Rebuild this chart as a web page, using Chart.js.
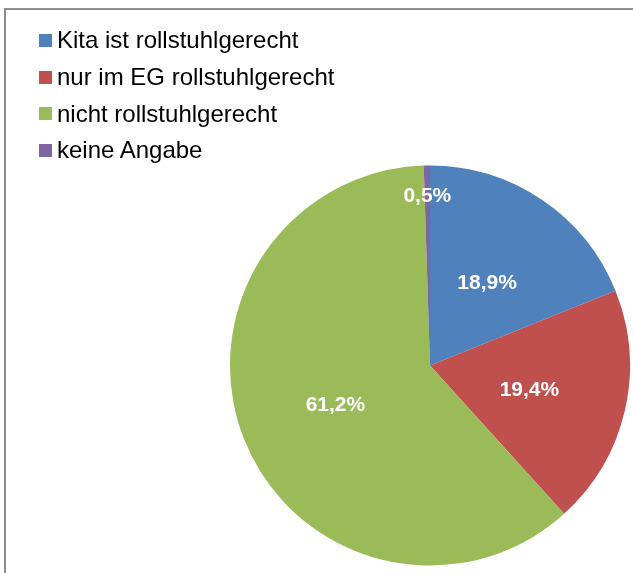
<!DOCTYPE html>
<html>
<head>
<meta charset="utf-8">
<script src="https://cdn.jsdelivr.net/npm/chart.js@4.4.1/dist/chart.umd.min.js"></script>
<style>
    body { margin: 0; background: #fff; }
    #wrap { position: relative; width: 633px; height: 573px; overflow: hidden; }
    #frame { position: absolute; left: 4px; top: 8px; width: 700px; height: 700px;
             border-top: 2px solid #8e8e8e; border-left: 2px solid #8e8e8e; }
    #myChart { position: absolute; left: 0; top: 0; }
    #legend { position: absolute; left: 39px; top: 22px; font-family: "Liberation Sans", Arial, sans-serif;
              font-size: 24px; color: #000; }
    .row { height: 36.7px; display: flex; align-items: center; white-space: nowrap; }
    .box { width: 13px; height: 13px; margin-right: 5px; }
</style>
</head>
<body>
<div id="wrap">
    <div id="frame"></div>
    <canvas id="myChart" width="633" height="573"></canvas>
    <div id="legend"></div>
</div>
<script>
// données
var categories = ['Kita ist rollstuhlgerecht', 'nur im EG rollstuhlgerecht', 'nicht rollstuhlgerecht', 'keine Angabe'];
var values = [18.9, 19.4, 61.2, 0.5];
var labels = ['18,9%', '19,4%', '61,2%', '0,5%'];
var colors = ['#4f81bd', '#c0504d', '#9bbb59', '#8064a2'];

// légende
var legend = document.getElementById('legend');
categories.forEach(function(cat, i) {
    var row = document.createElement('div');
    row.className = 'row';
    var box = document.createElement('div');
    box.className = 'box';
    box.style.background = colors[i];
    var txt = document.createElement('span');
    txt.innerText = cat;
    row.appendChild(box);
    row.appendChild(txt);
    legend.appendChild(row);
});

// étiquettes des parts
const sliceLabels = {
    id: 'sliceLabels',
    afterDatasetsDraw(chart) {
        const ctx = chart.ctx;
        const meta = chart.getDatasetMeta(0);
        ctx.save();
        ctx.fillStyle = '#fff';
        ctx.font = 'bold 21px "Liberation Sans", Arial, sans-serif';
        ctx.textAlign = 'center';
        ctx.textBaseline = 'middle';
        meta.data.forEach(function(arc, i) {
            const mid = (arc.startAngle + arc.endAngle) / 2;
            const f = values[i] < 2 ? 0.855 : 0.51;
            const r = arc.outerRadius * f;
            ctx.fillText(labels[i], arc.x + Math.cos(mid) * r, arc.y + Math.sin(mid) * r + 2);
        });
        ctx.restore();
    }
};

var ctx = document.getElementById('myChart').getContext('2d');
var myChart = new Chart(ctx, {
    type: 'pie',
    data: {
        labels: categories,
        datasets: [{
            data: values,
            backgroundColor: colors,
            borderWidth: 0
        }]
    },
    options: {
        responsive: false,
        animation: false,
        layout: { padding: { left: 230, right: 3, top: 165, bottom: 7 } },
        plugins: {
            legend: { display: false },
            tooltip: { enabled: false }
        }
    },
    plugins: [sliceLabels]
});
</script>
</body>
</html>
